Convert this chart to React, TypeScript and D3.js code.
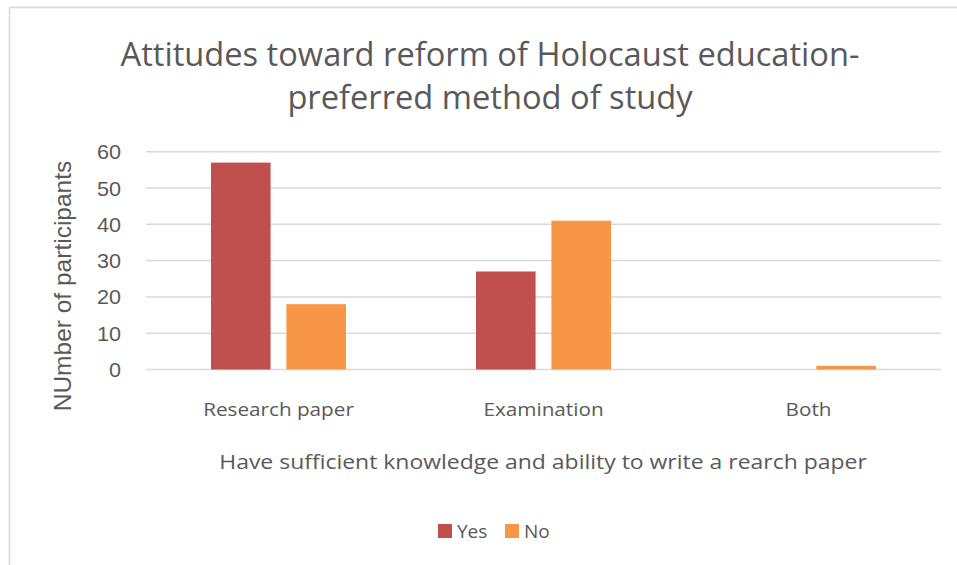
import React from "react";
import * as d3 from "d3";

const categories = ["Research paper", "Examination", "Both"];
const seriesNames = ["Yes", "No"];
const yesValues = [57, 27, 0];
const noValues = [18, 41, 1];
const yTicks = [0, 10, 20, 30, 40, 50, 60];
const colors = ["#C0504D", "#F79646"];

const W = 957;
const H = 565;
const FONT = "'Open Sans', sans-serif";
const ARIAL = "'Liberation Sans', Arial, sans-serif";
const TXT = "#595959";

export default function App() {
  const left = 146;
  const right = 941;
  const top = 151.7;
  const bottom = 369.5;
  const x0 = d3.scaleBand<string>().domain(categories).range([left, right]).paddingInner(0).paddingOuter(0);
  const x1 = d3.scaleBand<string>().domain(seriesNames).range([0, 135]).paddingInner(0.21);
  const y = d3.scaleLinear().domain([0, 60]).range([bottom, top]);
  const series = [yesValues, noValues];

  return (
    <svg width={W} height={H} style={{ position: "absolute", left: 0, top: 0, background: "#fff" }}>
      <rect x={0} y={0} width={W} height={H} fill="#fff" />
      <line x1={9.5} y1={7.5} x2={W} y2={7.5} stroke="#D9D9D9" strokeWidth={1.5} />
      <line x1={9.5} y1={7.5} x2={9.5} y2={H} stroke="#D9D9D9" strokeWidth={1.5} />
      <g transform="translate(490,66) scale(1.02,1)">
        <text x={0} y={0} textAnchor="middle" fontFamily={FONT} fontSize={32} fill={TXT}>
          Attitudes toward reform of Holocaust education-
        </text>
      </g>
      <g transform="translate(490,109) scale(1.02,1)">
        <text x={0} y={0} textAnchor="middle" fontFamily={FONT} fontSize={32} fill={TXT}>
          preferred method of study
        </text>
      </g>
      {yTicks.map((t) => (
        <g key={t}>
          <line x1={left} x2={right} y1={y(t)} y2={y(t)} stroke="#D9D9D9" strokeWidth={1.5} />
          <g transform={`translate(121,${y(t) + 7.5}) scale(1.08,1)`}>
            <text x={0} y={0} textAnchor="end" fontFamily={ARIAL} fontSize={20} fill={TXT}>
              {t}
            </text>
          </g>
        </g>
      ))}
      {categories.map((c, ci) => {
        const gx = (x0(c) as number) + x0.bandwidth() / 2 - 67.5;
        return (
          <g key={c}>
            {series.map((vals, si) => {
              const v = vals[ci];
              if (v <= 0) return null;
              return (
                <rect
                  key={si}
                  x={gx + (x1(seriesNames[si]) as number)}
                  y={y(v)}
                  width={x1.bandwidth()}
                  height={bottom - y(v)}
                  fill={colors[si]}
                />
              );
            })}
            <g transform={`translate(${(x0(c) as number) + x0.bandwidth() / 2},416) scale(1.09,1)`}>
              <text x={0} y={0} textAnchor="middle" fontFamily={FONT} fontSize={19} fill={TXT}>
                {c}
              </text>
            </g>
          </g>
        );
      })}
      <text
        transform={`translate(71,286) rotate(-90)`}
        textAnchor="middle"
        fontFamily={ARIAL}
        fontSize={24.5}
        fill={TXT}
      >
        NUmber of participants
      </text>
      <g transform="translate(543,469) scale(1.12,1)">
        <text x={0} y={0} textAnchor="middle" fontFamily={FONT} fontSize={20.5} fill={TXT}>
          Have sufficient knowledge and ability to write a rearch paper
        </text>
      </g>
      {seriesNames.map((s, i) => (
        <g key={s} transform={`translate(${438 + i * 67},524)`}>
          <rect x={0} y={0} width={14} height={14} fill={colors[i]} />
          <text x={19} y={14} fontFamily={FONT} fontSize={19} fill={TXT}>
            {s}
          </text>
        </g>
      ))}
    </svg>
  );
}
